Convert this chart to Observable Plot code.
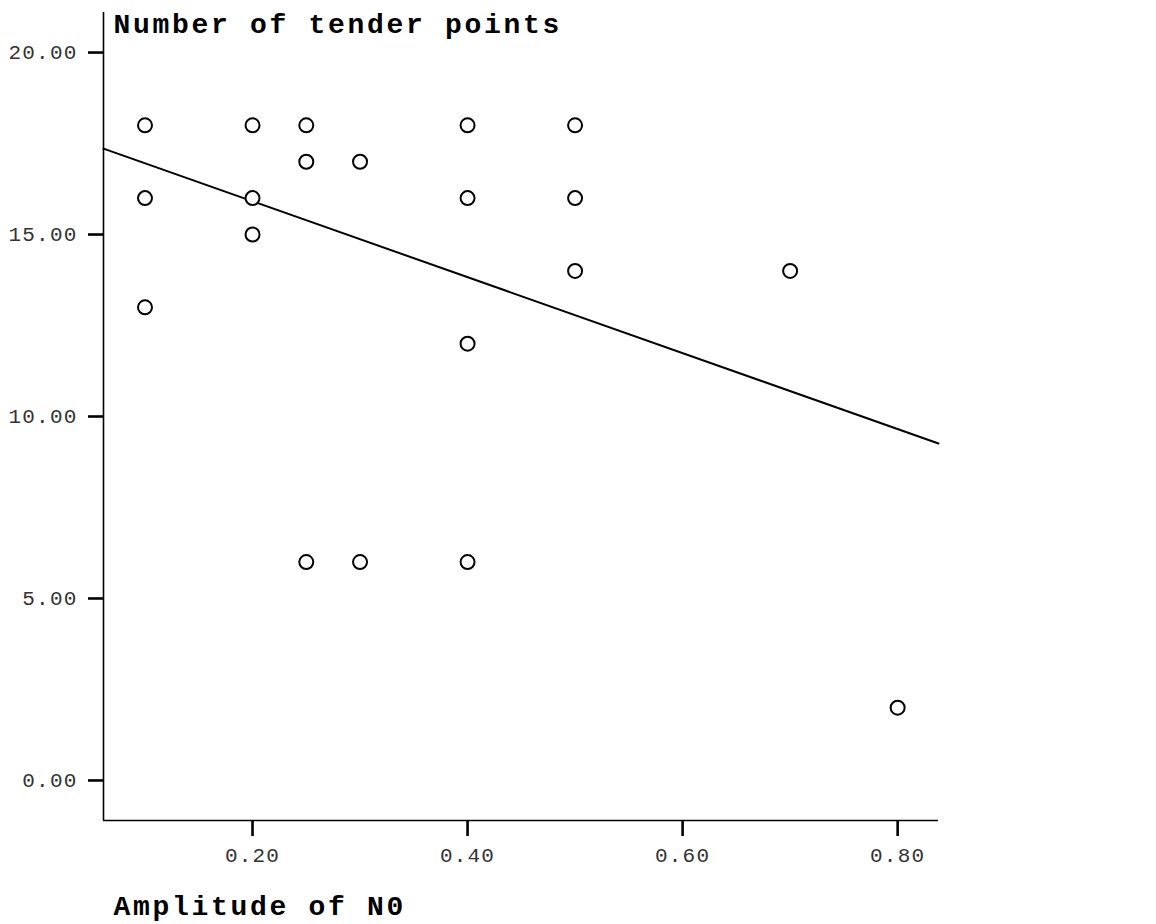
<!DOCTYPE html>
<html>
<head>
<meta charset="utf-8">
<script src="https://cdn.jsdelivr.net/npm/d3@7"></script>
<script src="https://cdn.jsdelivr.net/npm/@observablehq/plot@0.6"></script>
<style>
  html, body { margin: 0; padding: 0; background: #fff; }
  #wrap { position: relative; width: 1156px; height: 924px; overflow: hidden; }
  g[aria-label="y-axis tick label"] text,
  g[aria-label="x-axis tick label"] text { letter-spacing: 1.2px; }
</style>
</head>
<body>
<div id="wrap"><div id="chart"></div></div>
<script>
// Data
const amplitude = [0.10, 0.10, 0.10, 0.20, 0.20, 0.20, 0.25, 0.25, 0.25, 0.30, 0.30, 0.40, 0.40, 0.40, 0.40, 0.50, 0.50, 0.50, 0.70, 0.80];
const tenderPoints = [18, 16, 13, 18, 16, 15, 18, 17, 6, 17, 6, 18, 16, 12, 6, 18, 16, 14, 14, 2];

// Fitted line, read at the two ends of the x axis
const fitX = [0.0614, 0.838];
const fitY = [17.36, 9.26];

const xDomain = [0.0614, 0.838];
const yDomain = [-1.1, 21.1];
const xTicks = [0.2, 0.4, 0.6, 0.8];
const yTicks = [0, 5, 10, 15, 20];

const yTitle = "Number of tender points";
const xTitle = "Amplitude of N0";

const points = amplitude.map((a, i) => ({a, t: tenderPoints[i]}));
const fit = fitX.map((x, i) => ({x, y: fitY[i]}));

const mono = "'Courier New', 'Liberation Mono', monospace";

const chart = Plot.plot({
  width: 1156,
  height: 924,
  marginLeft: 103,
  marginRight: 218,
  marginTop: 12,
  marginBottom: 104,
  style: {fontFamily: mono, background: "white", color: "#000"},
  x: {domain: xDomain},
  y: {domain: yDomain},
  marks: [
    Plot.ruleX([xDomain[0]], {stroke: "#000", strokeWidth: 1.6}),
    Plot.ruleY([yDomain[0]], {stroke: "#000", strokeWidth: 1.6}),
    Plot.axisY({ticks: yTicks, tickFormat: d => d.toFixed(2), tickSize: 15, tickPadding: 11,
      fontSize: 21, strokeWidth: 2.6, label: null, fill: "#333"}),
    Plot.axisX({ticks: xTicks, tickFormat: d => d.toFixed(2), tickSize: 16, tickPadding: 11,
      fontSize: 21, strokeWidth: 2.6, label: null, fill: "#333"}),
    Plot.line(fit, {x: "x", y: "y", stroke: "#000", strokeWidth: 2}),
    Plot.dot(points, {x: "a", y: "t", r: 7, stroke: "#000", strokeWidth: 2, fill: "white"}),
    Plot.text([yTitle], {frameAnchor: "top-left", dx: 10, dy: 12, lineAnchor: "middle", textAnchor: "start",
      fontSize: 28, fontWeight: "bold", fill: "#000", fontFamily: mono}),
    Plot.text([xTitle], {frameAnchor: "bottom-left", dx: 10, dy: 86, lineAnchor: "middle", textAnchor: "start",
      fontSize: 28, fontWeight: "bold", fill: "#000", fontFamily: mono})
  ]
});
document.getElementById("chart").appendChild(chart);
chart.querySelectorAll('g[aria-label="text"] text').forEach(t => t.style.letterSpacing = "2.7px");
</script>
</body>
</html>
